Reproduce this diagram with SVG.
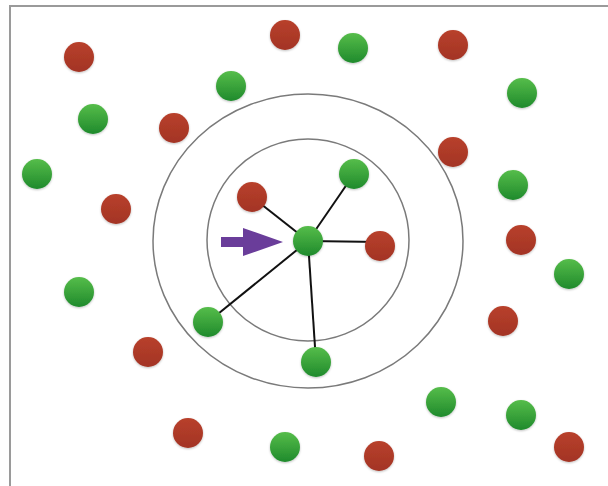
<svg xmlns="http://www.w3.org/2000/svg" width="608" height="486" viewBox="0 0 608 486">
<style>
.frame{stroke:#9a9a9a;stroke-width:2;fill:none}
.ring{stroke:#7a7a7a;stroke-width:1.5;fill:none}
.edge{stroke:#111;stroke-width:2}
.g{fill:url(#gg);filter:url(#sh)}
.r{fill:url(#rg);filter:url(#sh)}
</style>
<defs>
<linearGradient id="gg" x1="0" y1="0" x2="0" y2="1">
<stop offset="0" stop-color="#56bd4a"/>
<stop offset="1" stop-color="#1f8a2c"/>
</linearGradient>
<linearGradient id="rg" x1="0" y1="0" x2="0" y2="1">
<stop offset="0" stop-color="#b8402c"/>
<stop offset="1" stop-color="#a33424"/>
</linearGradient>
<filter id="sh" x="-30%" y="-30%" width="160%" height="160%">
<feGaussianBlur in="SourceAlpha" stdDeviation="1.2"/>
<feOffset dy="1" result="b"/>
<feFlood flood-color="#000" flood-opacity="0.25"/>
<feComposite in2="b" operator="in"/>
<feMerge><feMergeNode/><feMergeNode in="SourceGraphic"/></feMerge>
</filter>
</defs>
<rect width="608" height="486" fill="#fff"/>
<g id="frame">
<line class="frame" x1="9" y1="6" x2="608" y2="6"/>
<line class="frame" x1="10" y1="5" x2="10" y2="486"/>
</g>
<g id="rings">
<ellipse class="ring" cx="308" cy="241" rx="155" ry="147"/>
<circle class="ring" cx="308" cy="240" r="101"/>
</g>
<g id="connectors">
<line class="edge" x1="308" y1="241" x2="252" y2="197"/>
<line class="edge" x1="308" y1="241" x2="354" y2="174"/>
<line class="edge" x1="308" y1="241" x2="380" y2="242"/>
<line class="edge" x1="308" y1="241" x2="208" y2="322"/>
<line class="edge" x1="308" y1="241" x2="316" y2="362"/>
</g>
<g id="arrow">
<polygon points="221,237 243,237 243,228 283,242 243,256 243,247 221,247" fill="#6a3d9a"/>
</g>
<g id="red-nodes">
<circle id="r1" class="r" cx="79" cy="57" r="15"/>
<circle id="r2" class="r" cx="285" cy="35" r="15"/>
<circle id="r3" class="r" cx="453" cy="45" r="15"/>
<circle id="r4" class="r" cx="174" cy="128" r="15"/>
<circle id="r5" class="r" cx="453" cy="152" r="15"/>
<circle id="r6" class="r" cx="116" cy="209" r="15"/>
<circle id="r7" class="r" cx="252" cy="197" r="15"/>
<circle id="r8" class="r" cx="380" cy="246" r="15"/>
<circle id="r9" class="r" cx="521" cy="240" r="15"/>
<circle id="r10" class="r" cx="503" cy="321" r="15"/>
<circle id="r11" class="r" cx="148" cy="352" r="15"/>
<circle id="r12" class="r" cx="188" cy="433" r="15"/>
<circle id="r13" class="r" cx="379" cy="456" r="15"/>
<circle id="r14" class="r" cx="569" cy="447" r="15"/>
</g>
<g id="green-nodes">
<circle id="g1" class="g" cx="353" cy="48" r="15"/>
<circle id="g2" class="g" cx="231" cy="86" r="15"/>
<circle id="g3" class="g" cx="93" cy="119" r="15"/>
<circle id="g4" class="g" cx="522" cy="93" r="15"/>
<circle id="g5" class="g" cx="37" cy="174" r="15"/>
<circle id="g6" class="g" cx="354" cy="174" r="15"/>
<circle id="g7" class="g" cx="513" cy="185" r="15"/>
<circle id="g8" class="g" cx="308" cy="241" r="15"/>
<circle id="g9" class="g" cx="569" cy="274" r="15"/>
<circle id="g10" class="g" cx="79" cy="292" r="15"/>
<circle id="g11" class="g" cx="208" cy="322" r="15"/>
<circle id="g12" class="g" cx="316" cy="362" r="15"/>
<circle id="g13" class="g" cx="441" cy="402" r="15"/>
<circle id="g14" class="g" cx="521" cy="415" r="15"/>
<circle id="g15" class="g" cx="285" cy="447" r="15"/>
</g>
</svg>
